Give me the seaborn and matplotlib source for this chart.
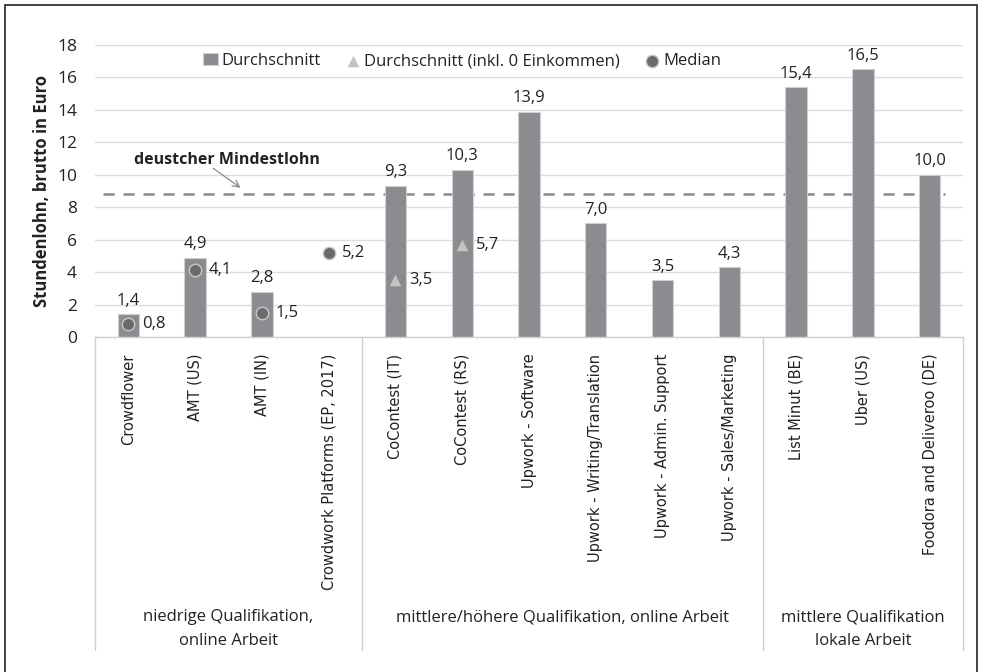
import matplotlib
matplotlib.use("Agg")
import matplotlib.pyplot as plt
import seaborn as sns
import numpy as np
import pandas as pd

categories = ["Crowdflower", "AMT (US)", "AMT (IN)", "Crowdwork Platforms (EP, 2017)",
              "CoContest (IT)", "CoContest (RS)", "Upwork - Software",
              "Upwork - Writing/Translation", "Upwork - Admin. Support",
              "Upwork - Sales/Marketing", "List Minut (BE)", "Uber (US)",
              "Foodora and Deliveroo (DE)"]
durchschnitt = [1.4, 4.9, 2.8, np.nan, 9.3, 10.3, 13.9, 7.0, 3.5, 4.3, 15.4, 16.5, 10.0]
durchschnitt_inkl0 = [np.nan, np.nan, np.nan, np.nan, 3.5, 5.7, np.nan, np.nan, np.nan, np.nan, np.nan, np.nan, np.nan]
median = [0.8, 4.1, 1.5, 5.2, np.nan, np.nan, np.nan, np.nan, np.nan, np.nan, np.nan, np.nan, np.nan]
groups = ["niedrige Qualifikation,\nonline Arbeit",
          "mittlere/höhere Qualifikation, online Arbeit",
          "mittlere Qualifikation\nlokale Arbeit"]
group_sizes = [4, 6, 3]
mindestlohn = 8.84
yticks = [0, 2, 4, 6, 8, 10, 12, 14, 16, 18]

sns.set_theme(style="white")
NARROW = ["Open Sans", "DejaVu Sans"]
plt.rcParams["font.family"] = NARROW

df = pd.DataFrame({"cat": categories, "mean": durchschnitt,
                   "mean0": durchschnitt_inkl0, "median": median})
x = np.arange(len(categories))

fig = plt.figure(figsize=(9.83, 6.72), dpi=100)
ax = fig.add_axes([95/983, 1-337/672, (963-95)/983, (337-45)/672])

BAR = "#8b8c90"
ax.axhline(mindestlohn, xmin=8/868, xmax=850/868, color="#8a8a8a", lw=1.8,
           ls=(0, (4.5, 3.5)), zorder=1)

sns.barplot(data=df, x="cat", y="mean", color=BAR, width=0.32, ax=ax,
            edgecolor="#cfcfcf", linewidth=0.8, saturation=1, zorder=2,
            label="Durchschnitt")
ax.scatter(x, df["mean0"], marker="^", s=70, color="#c3c3c3", zorder=4,
           linewidths=0, label="Durchschnitt (inkl. 0 Einkommen)")
ax.scatter(x, df["median"], marker="o", s=80, color="#6b6b6e", edgecolor="#c8c8c8",
           linewidths=1.0, zorder=4, label="Median")

fmt = lambda v: f"{v:.1f}".replace(".", ",")
for i, v in enumerate(durchschnitt):
    if not np.isnan(v):
        ax.text(i, v + 0.35, fmt(v), ha="center", va="bottom", fontsize=12,
                color="#222222", family=NARROW)
for arr in (durchschnitt_inkl0, median):
    for i, v in enumerate(arr):
        if not np.isnan(v):
            ax.text(i + 0.2, v, fmt(v), ha="left", va="center", fontsize=12,
                    color="#222222", family=NARROW)

ax.set_ylim(0, 18)
ax.set_xlim(-0.5, len(categories) - 0.5)
ax.set_yticks(yticks)
ax.set_yticklabels([str(t) for t in yticks], fontsize=12.5, color="#222222", family=NARROW)
ax.tick_params(axis="y", length=0, pad=13)
ax.grid(axis="y", color="#dcdcdc", lw=1.0, zorder=0)
ax.set_axisbelow(True)
for s in ["top", "right", "left"]:
    ax.spines[s].set_visible(False)
ax.spines["bottom"].set_color("#d0d0d0")
ax.spines["bottom"].set_linewidth(1.0)

ax.set_xticks(x)
ax.set_xticklabels(categories, rotation=90, fontsize=10.5, color="#222222",
                   family="DejaVu Sans", va="top", ha="center")
ax.tick_params(axis="x", length=0, pad=12)
ax.set_xlabel("")
ax.set_ylabel("Stundenlohn, brutto in Euro", fontsize=12, fontweight="bold",
              color="#222222", family=NARROW, labelpad=4)

# group separators and labels
trans = ax.get_xaxis_transform()
ybot = -(650 - 337) / 292
bounds = np.concatenate([[0], np.cumsum(group_sizes)]) - 0.5
for b in bounds:
    ax.plot([b, b], [0, ybot], transform=trans, color="#d0d0d0", lw=1.0, clip_on=False)
for gi, g in enumerate(groups):
    cx = (bounds[gi] + bounds[gi + 1]) / 2
    ax.text(cx, -(609 - 337) / 292, g, transform=trans, ha="center", va="top",
            fontsize=12, color="#222222", linespacing=1.7, family=NARROW)

# annotation
ax.text(1.47, 10.9, "deustcher Mindestlohn", fontsize=11.5, fontweight="bold",
        color="#222222", family=NARROW, ha="center", va="center")
ax.annotate("", xy=(1.68, 9.2), xytext=(1.27, 10.4),
            arrowprops=dict(arrowstyle="->", color="#8a8a8a", lw=0.9,
                            shrinkA=0, shrinkB=0))

handles, labels = ax.get_legend_handles_labels()
order = [labels.index(l) for l in ["Durchschnitt", "Durchschnitt (inkl. 0 Einkommen)", "Median"]]
leg = ax.legend([handles[i] for i in order], [labels[i] for i in order],
                loc="center", bbox_to_anchor=(0.423, 0.945), ncol=3, frameon=False,
                handletextpad=0.2, columnspacing=1.5, handlelength=0.9,
                prop={"family": NARROW, "size": 12})
for t in leg.get_texts():
    t.set_color("#222222")

# figure border
fig.patches.append(plt.Rectangle((5/983, -0.01), 972/983, 1 - 5/672 + 0.01,
                                 transform=fig.transFigure, fill=False,
                                 edgecolor="#222222", lw=1.2))

fig.savefig("out.png", dpi=100)
